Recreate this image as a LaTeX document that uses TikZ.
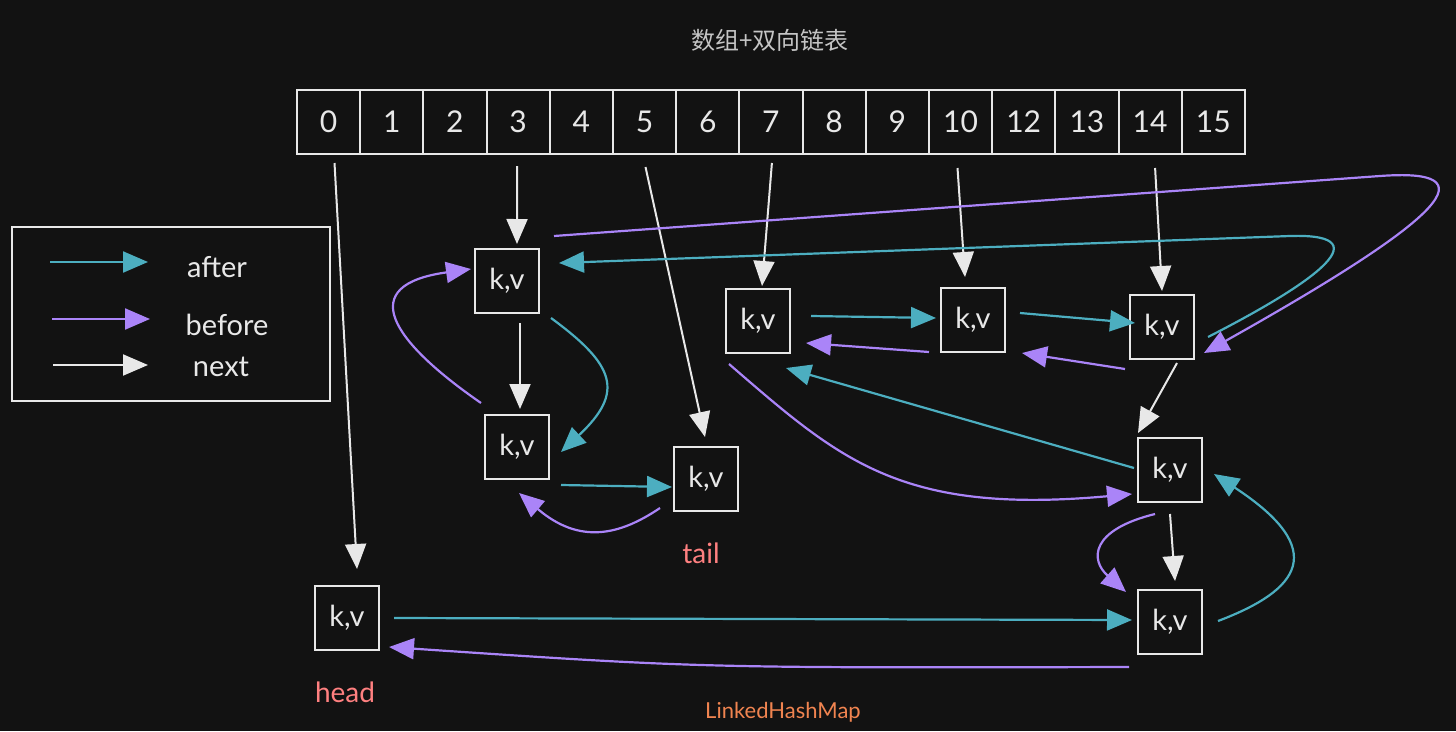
\documentclass[tikz,border=0pt]{standalone}
\usepackage{fontspec}
\setmainfont{Lato}
\newfontfamily\cjk{Noto Sans CJK SC}
\usetikzlibrary{arrows.meta,calc}
\definecolor{bgc}{RGB}{18,18,18}
\definecolor{fgc}{RGB}{232,232,232}
\definecolor{aftc}{RGB}{76,174,192}
\definecolor{befc}{RGB}{170,132,248}
\definecolor{redc}{RGB}{255,128,128}
\definecolor{orgc}{RGB}{240,132,80}
\begin{document}
\begin{tikzpicture}[x=1pt,y=-1pt,
  kv/.style={draw=fgc, line width=2pt, fill=bgc, minimum width=64pt, minimum height=64pt, inner sep=0pt, text=fgc, font=\fontsize{29}{32}\selectfont},
  cell/.style={draw=fgc, line width=2pt, minimum width=63.2pt, minimum height=64pt, inner sep=0pt, text=fgc, font=\fontsize{30}{34}\selectfont},
  tip/.style={-{Triangle[length=25pt,width=21pt]}},
  nxt/.style={tip, draw=fgc, line width=2pt},
  aft/.style={tip, draw=aftc, line width=2.2pt},
  bef/.style={tip, draw=befc, line width=2.2pt},
  lbl/.style={text=fgc, font=\fontsize{29}{32}\selectfont, inner sep=0pt},
  annot/.style={font=\fontsize{28}{32}\selectfont, inner sep=0pt}
]
\fill[bgc] (0,0) rectangle (1456,731);
\useasboundingbox (0,0) rectangle (1456,731);

% title
\node[text=fgc!85!black, font=\cjk\fontsize{24}{28}\selectfont] (title) at (770,40) {数组+双向链表};

% array
\foreach \lab [count=\i from 0] in {0,1,2,3,4,5,6,7,8,9,10,12,13,14,15}
  \node[cell] (c\lab) at (328.5+63.2*\i,122) {\lab};

% legend
\node[draw=fgc, line width=2pt, minimum width=318pt, minimum height=174pt, inner sep=0pt] (legend) at (171,314) {};
\coordinate (la1) at (50,262);  \coordinate (la2) at (148,262);
\coordinate (lb1) at (52,319);  \coordinate (lb2) at (150,319);
\coordinate (ln1) at (53,365);  \coordinate (ln2) at (148,365);
\draw[aft] (la1) -- (la2);
\draw[bef] (lb1) -- (lb2);
\draw[nxt] (ln1) -- (ln2);
\node[lbl] (lafter) at (217,267) {after};
\node[lbl] (lbefore) at (227,325) {before};
\node[lbl] (lnext) at (221,367) {next};

% entry nodes
\node[kv] (A) at (507,281) {k,v};
\node[kv] (B) at (517,447) {k,v};
\node[kv] (C) at (706,479) {k,v};
\node[kv] (D) at (758,321) {k,v};
\node[kv] (E) at (973,320) {k,v};
\node[kv] (F) at (1162,327) {k,v};
\node[kv] (G) at (1170,470) {k,v};
\node[kv] (H) at (1170,622) {k,v};
\node[kv] (head) at (347,618) {k,v};

\node[annot, text=redc] (tail) at (701,553) {tail};
\node[annot, text=redc] (headlbl) at (345,692) {head};
\node[annot, text=orgc, font=\fontsize{22}{26}\selectfont] (lhm) at (783,712) {LinkedHashMap};

% next arrows (white)
\draw[nxt] ($(c0.south)+(6,8)$) -- ($(head.north)+(10,-16)$);
\draw[nxt] ($(c3.south)+(-1,11)$) -- ($(A.north)+(10,-4)$);
\draw[nxt] ($(c5.south)+(1,12)$) -- ($(C.north)+(-1,-9)$);
\draw[nxt] ($(c7.south)+(1,8)$) -- ($(D.north)+(4,-2)$);
\draw[nxt] ($(c10.south)+(-3,13)$) -- ($(E.north)+(-8,-10)$);
\draw[nxt] ($(c14.south)+(5,13)$) -- ($(F.north)+(0,-3)$);
\draw[nxt] ($(A.south)+(13,9)$) -- ($(B.north)+(3,-5)$);
\draw[nxt] ($(F.south)+(15,3)$) -- ($(G.north)+(-32,-4)$);
\draw[nxt] ($(G.south)+(0,11)$) -- ($(H.north)+(5,-8)$);

% after arrows (teal)
\draw[aft] ($(A.east)+(11,37)$) .. controls (615,365) and (625,392) .. ($(B.east)+(11,5)$);
\draw[aft] ($(B.east)+(11,38)$) -- ($(C.west)+(-1,8)$);
\draw[aft] ($(D.east)+(20,-5)$) -- ($(E.west)+(-4,-2)$);
\draw[aft] ($(E.east)+(14,-7)$) -- ($(F.west)+(6,-4)$);
\draw[aft] ($(G.west)+(-3,-2)$) -- ($(D.south east)+(-5,14)$);
\draw[aft] ($(head.east)+(14,0)$) -- ($(H.west)+(-5,-2)$);
\draw[aft] ($(H.east)+(15,-1)$) .. controls (1300,590) and (1330,550) .. ($(G.east)+(11,4)$);
\draw[aft] ($(F.east)+(13,10)$) .. controls (1300,290) and (1390,233) .. (1290,236) -- ($(A.east)+(19,-18)$);

% before arrows (purple)
\draw[bef] ($(B.west)+(-3,-44)$) .. controls (390,340) and (355,285) .. ($(A.west)+(-3,-12)$);
\draw[bef] ($(C.west)+(-13,29)$) .. controls (620,535) and (580,545) .. ($(B.south)+(2,13)$);
\draw[bef] ($(E.west)+(-11,32)$) -- ($(D.east)+(15,22)$);
\draw[bef] ($(F.west)+(-4,42)$) -- ($(E.east)+(16,33)$);
\draw[bef] ($(D.south west)+(4,10)$) .. controls (840,460) and (900,515) .. ($(G.west)+(-5,24)$);
\draw[bef] ($(G.south)+(-15,11)$) .. controls (1090,530) and (1090,560) .. ($(H.north west)+(-11,3)$);
\draw[bef] ($(H.west)+(-8,45)$) .. controls (700,668) .. ($(head.east)+(9,29)$);
\draw[bef] ($(A.north east)+(14,-12)$) -- (1380,176) .. controls (1490,168) and (1450,215) .. ($(F.east)+(9,26)$);
\end{tikzpicture}
\end{document}
